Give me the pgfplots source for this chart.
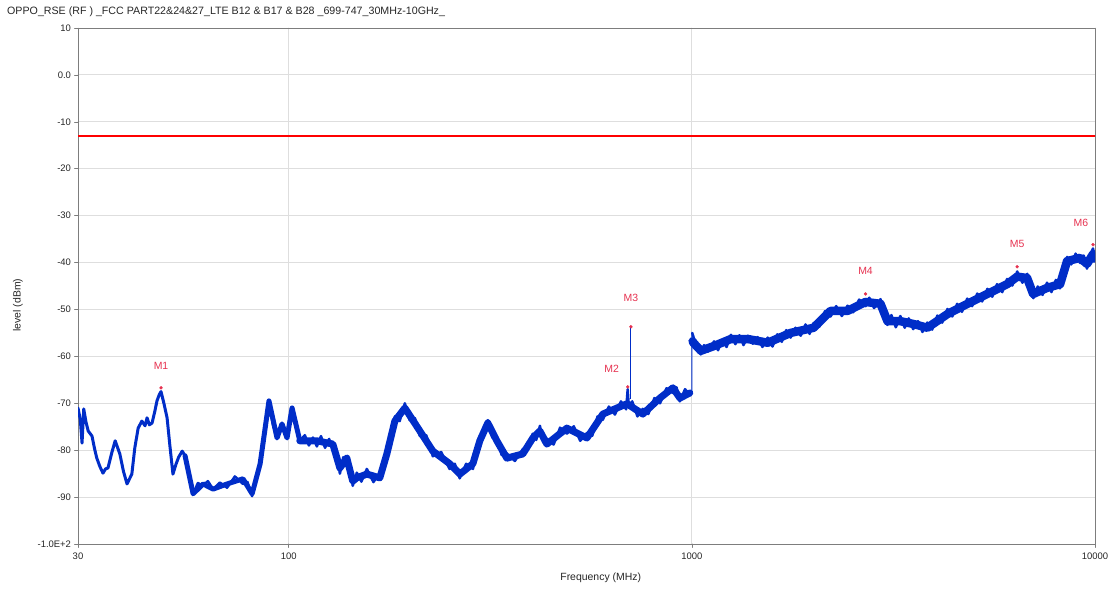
\documentclass[border=0pt]{standalone}
\usepackage{fontspec}
\setmainfont{Liberation Sans}
\usepackage{pgfplots}
\pgfplotsset{compat=1.18}
\definecolor{tracec}{RGB}{0,45,200}
\definecolor{mkc}{RGB}{230,50,80}
\definecolor{gridc}{RGB}{222,222,222}
\definecolor{framec}{RGB}{125,125,125}
\begin{document}
\begin{tikzpicture}
\begin{axis}[
  name=ax,
  scale only axis, width=1017bp, height=516bp,
  xmode=log, log basis x=10,
  xmin=30, xmax=10000, ymin=-100, ymax=10,
  xtick={30,100,1000,10000}, xticklabels={30,100,1000,10000},
  xminorticks=false,
  ytick={-100,-90,...,10},
  yticklabels={-1.0E+2,-90,-80,-70,-60,-50,-40,-30,-20,-10,0.0,10},
  xtick pos=bottom, ytick pos=left,
  grid=major, major grid style={gridc, line width=0.9bp},
  axis line style={framec, line width=0.8bp},
  tick style={framec, line width=0.6bp},
  tick align=outside, major tick length=3.5bp,
  tick label style={font=\fontsize{9.5}{11}\selectfont, text=black!85},
  xticklabel style={yshift=-2bp},
  xlabel={Frequency (MHz)}, ylabel={level (dBm)},
  label style={font=\fontsize{10.5}{12}\selectfont, text=black!85},
  xlabel style={at={(axis description cs:0.514,0)}, anchor=center, yshift=-34bp},
  ylabel style={at={(axis description cs:-0.059,0.463)}, anchor=center},
  line join=round, line cap=round,
]
% ---------- smooth core of the trace ----------
\addplot[draw=tracec, line width=5bp] coordinates {
(55.3,-81.2) (57.9,-89.3) (61.3,-87.2) (64.9,-88.3) (70.3,-87.2) (77.0,-86.1)
(81.1,-89.3) (84.9,-82.9) (89.3,-69.5) (93.5,-77.4) (96.2,-74.4) (99.0,-77.4)
(101.9,-71.0) (106.5,-78.0)};
\addplot[draw=tracec, line width=7bp] coordinates {
(106.5,-78.0) (117.4,-78.0) (128.6,-78.7) (133.9,-83.8) (139.3,-81.7)
(144.1,-86.6) (147.5,-85.9) (156.2,-85.1) (168.2,-85.9) (175.1,-80.8) (183.3,-73.8)
(194.1,-71.0) (211.4,-75.9) (227.7,-80.2) (250.8,-82.9) (265.7,-85.1) (286.2,-82.9)
(297.8,-78.0) (311.7,-74.2) (328.2,-78.0) (347.5,-81.7) (380.7,-80.8) (403.1,-77.4)
(419.6,-75.9) (436.8,-78.7) (489.6,-75.3) (549.0,-77.4) (601.4,-72.3) (690.0,-70.1)
(755.7,-72.3) (832.9,-68.9) (897.2,-66.7) (933.8,-68.9) (988,-67.8)};
\addplot[draw=tracec, line width=8.5bp] coordinates {
(1004,-56.8) (1011,-57.2) (1053,-58.8) (1134,-57.8) (1249,-56.3) (1376,-56.3)
(1542,-57.1) (1758,-55.0) (2005,-53.9) (2209,-50.3) (2433,-50.3) (2696,-48.4)
(2937,-48.8) (3056,-52.5) (3291,-52.5) (3544,-53.1) (3839,-53.9) (4302,-51.0)
(4823,-48.8) (5404,-46.7) (6056,-44.6) (6411,-43.0) (6785,-43.3) (7024,-46.7)
(7606,-45.4) (8193,-44.6) (8525,-39.7) (9181,-39.0) (9555,-40.3) (9886,-38.2)
(9990,-39.2)};
% ---------- noisy detail of the trace ----------
\addplot[draw=tracec, line width=3bp] coordinates {
(30,-71.0) (30.4,-73.5) (30.7,-78.5) (31.0,-71.2) (31.4,-74.0) (31.8,-75.9) (32.5,-77.0)
(33.0,-79.8) (33.4,-81.7) (34.0,-83.5) (34.6,-84.9) (35.1,-84.0) (35.6,-83.8) (36.4,-80.5)
(37.1,-78.0) (38.1,-80.8) (38.9,-84.5) (39.7,-87.2) (40.8,-85.1) (41.5,-79.5) (42.3,-75.3)
(43.2,-73.8) (44.0,-74.8) (44.5,-73.1) (45.1,-74.6) (45.8,-74.2) (46.5,-71.8) (47.1,-69.5)
(47.7,-68.2) (48.2,-67.5) (49.0,-70.0) (49.9,-73.1) (50.7,-79.0) (51.6,-85.1) (52.5,-83.0)
(53.3,-81.5) (54.4,-80.2) (55.3,-81.2)};
\addplot[draw=tracec, line width=2.5bp] coordinates {
(55.3,-81.2) (56.5,-85.5) (57.9,-89.3) (59.5,-87.0) (61.3,-87.6) (63.0,-86.6) (64.9,-88.3)
(67.5,-86.9) (70.3,-88.0) (73.5,-85.6) (77.0,-87.2) (79.0,-86.8) (81.1,-89.8) (83.0,-86.0)
(84.9,-82.9) (87.0,-76.0) (89.3,-69.5) (91.3,-74.5) (93.5,-77.4) (96.2,-74.4) (99.0,-77.4)
(101.9,-71.0) (104,-74.8) (106.5,-78.0) (109.6,-76.8) (112.2,-79.0) (114.8,-77.3)
(117.4,-79.2) (120.2,-77.0) (123.0,-79.5) (125.9,-77.6) (128.6,-79.8) (131.2,-80.0)
(133.9,-85.0) (136.5,-81.5) (139.3,-82.6) (141.9,-83.5) (144.1,-87.6) (147.5,-84.8)
(151.4,-86.7) (156.2,-84.0) (162.2,-86.8) (168.2,-84.9) (171.8,-84.5) (175.1,-79.9)
(179.1,-78.4) (183.3,-72.8) (188.4,-73.8) (194.1,-70.0) (199.5,-73.6) (205.6,-73.2)
(211.4,-77.0) (219.3,-76.8) (227.7,-81.3) (238.8,-80.4) (250.6,-84.0) (258.2,-82.9)
(265.5,-86.0) (275.4,-82.9) (286.4,-84.0) (292.4,-79.5) (297.8,-78.9) (304.8,-75.0)
(311.9,-73.6) (319.9,-77.3) (328.1,-77.0) (337.3,-81.0) (347.5,-80.7) (363.9,-82.3)
(381.1,-79.7) (391.7,-80.0) (402.7,-76.5) (411.1,-77.8) (419.8,-74.8) (427.6,-78.3)
(436.5,-77.5) (453.9,-78.8) (471.0,-75.2) (489.8,-76.5) (509.3,-74.9) (528.4,-78.0)
(549.5,-76.3) (566.2,-76.9) (583.4,-72.8) (601.2,-73.5) (622.3,-70.7) (644.2,-72.4)
(666.8,-69.6) (687,-71.3) (693,-67.0) (697,-70.5) (711.2,-69.6) (732.8,-72.8)
(755.1,-71.2) (779.8,-72.3) (807.2,-68.9) (833.7,-70.0) (865.0,-66.8) (897.5,-67.8)
(916.2,-66.6) (933.3,-69.6) (961.6,-67.0) (991.2,-68.3)};
% jump at 1 GHz
\addplot[draw=tracec, line width=1bp] coordinates {(991.2,-68.3) (1000,-68.0) (1000,-55)};
\addplot[draw=tracec, line width=2.5bp] coordinates {
(1002,-55.0) (1023,-57.5) (1052,-59.6) (1072,-57.6) (1096,-59.0) (1135,-56.8) (1161,-58.7)
(1189,-56.5) (1219,-58.0) (1250,-55.4) (1282,-57.4) (1312,-55.5) (1343,-57.6) (1377,-55.6)
(1416,-57.3) (1455,-55.9) (1496,-58.0) (1542,-56.0) (1585,-57.9) (1629,-55.3) (1671,-56.9)
(1714,-54.4) (1758,-56.0) (1807,-53.9) (1862,-55.6) (1914,-53.2) (1959,-55.2) (2004,-52.9)
(2070,-53.7) (2138,-50.4) (2208,-51.5) (2280,-49.3) (2355,-51.4) (2432,-49.2) (2512,-50.6)
(2600,-47.9) (2698,-49.3) (2754,-47.5) (2831,-49.7) (2938,-47.8) (2999,-51.5) (3055,-53.3)
(3126,-51.2) (3206,-53.8) (3289,-51.4) (3373,-53.9) (3451,-51.9) (3540,-54.2) (3639,-52.5)
(3733,-54.8) (3837,-52.8) (3945,-54.3) (4064,-51.3) (4178,-52.8) (4305,-49.9) (4426,-51.5)
(4550,-48.8) (4677,-50.5) (4819,-47.7) (4955,-49.3) (5105,-46.6) (5248,-48.3) (5408,-45.6)
(5559,-47.3) (5715,-44.6) (5888,-46.3) (6053,-43.5) (6237,-44.9) (6412,-41.9) (6607,-44.3)
(6792,-42.4) (6918,-45.5) (7031,-47.6) (7211,-45.1) (7413,-46.9) (7603,-44.3) (7798,-46.3)
(7998,-43.7) (8185,-45.5) (8356,-43.0) (8531,-38.8) (8730,-40.4) (8954,-38.1) (9183,-40.1)
(9376,-38.5) (9550,-41.3) (9727,-38.4) (9886,-37.0) (10000,-39.3)};
% M3 spike
\addplot[draw=tracec, line width=1bp] coordinates {(706,-69) (706,-53.7)};
% limit line
\addplot[red, line width=1.5bp] coordinates {(30,-13) (10000,-13)};
% markers
\addplot[only marks, mark=*, mark size=1.5bp, draw=mkc, fill=mkc] coordinates {
(48.2,-66.7) (693,-66.5) (706,-53.7) (2696,-46.7) (6411,-40.9) (9886,-36.2)};
\begin{scope}[every node/.style={font=\fontsize{10.5}{12}\selectfont, text=mkc}]
\node at (axis cs:48.2,-66.7) [yshift=22bp] {M1};
\node at (axis cs:693,-66.5) [xshift=-16bp, yshift=18bp] {M2};
\node at (axis cs:706,-53.7) [yshift=29bp] {M3};
\node at (axis cs:2696,-46.7) [yshift=23bp] {M4};
\node at (axis cs:6411,-40.9) [yshift=23bp] {M5};
\node at (axis cs:9886,-36.2) [xshift=-12bp, yshift=22bp] {M6};
\end{scope}
\end{axis}
\node[anchor=west, font=\fontsize{10.7}{12}\selectfont, text=black!85, inner sep=0pt]
  at ([xshift=-71bp, yshift=16bp]ax.north west)
  {OPPO\_RSE (RF ) \_FCC PART22\&24\&27\_LTE B12 \& B17 \& B28 \_699-747\_30MHz-10GHz\_};
\path ([xshift=-78bp,yshift=-48bp]ax.south west) rectangle ([xshift=22bp,yshift=28bp]ax.north east);
\end{tikzpicture}
\end{document}
